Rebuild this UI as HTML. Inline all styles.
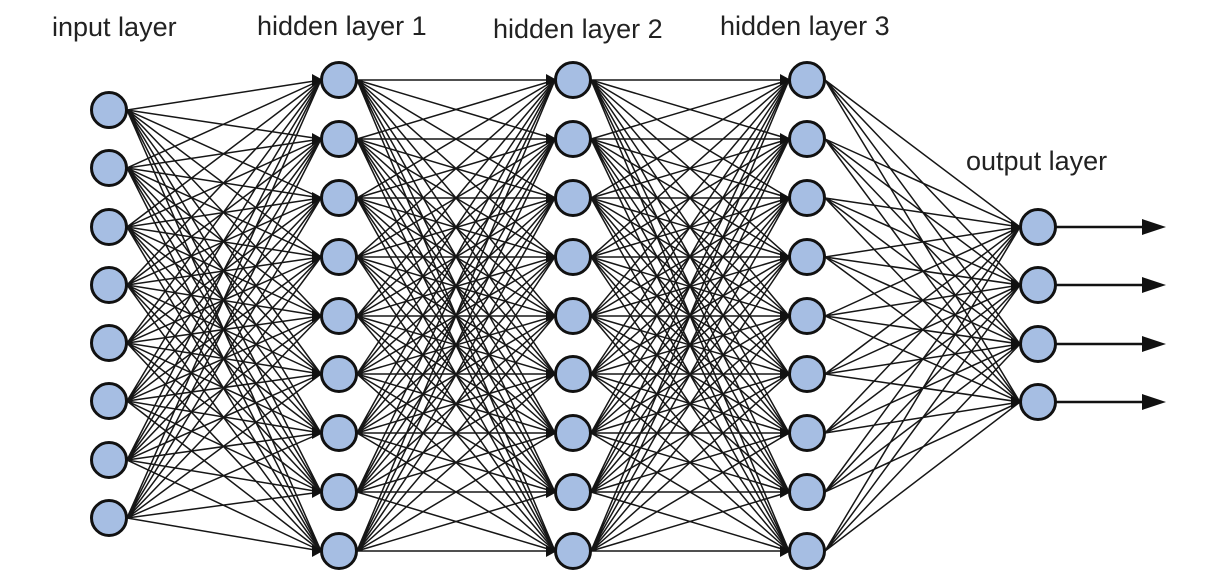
<!DOCTYPE html>
<html>
<head>
<meta charset="utf-8">
<style>
  html, body { margin:0; padding:0; background:#fff; width:1224px; height:581px; overflow:hidden; }
  svg { display:block; overflow:hidden; }
  .e { fill:none; stroke:#161616; stroke-width:1.5; }
  .n { fill:#a6bee3; stroke:#111; stroke-width:3; }
  .t { font-family:"Liberation Sans", Arial, sans-serif; font-size:27px; fill:#222; }
  .ah { fill:#111; }
  .oa { stroke:#111; stroke-width:2.6; }
</style>
</head>
<body>
<svg width="1224" height="581" viewBox="0 0 1224 581" xmlns="http://www.w3.org/2000/svg">
  <rect width="1224" height="581" fill="#fff"/>

  <!-- labels -->
  <text class="t" x="52" y="36">input layer</text>
  <text class="t" x="257" y="35">hidden layer 1</text>
  <text class="t" x="493" y="38">hidden layer 2</text>
  <text class="t" x="720" y="35">hidden layer 3</text>
  <text class="t" x="966" y="170">output layer</text>

  <!-- input -> hidden 1 -->
  <g class="e">
    <path d="M127 110L321 80M127 110L321 139M127 110L321 198M127 110L321 257M127 110L321 316M127 110L321 374M127 110L321 433M127 110L321 492M127 110L321 551"/>
    <path d="M127 168L321 80M127 168L321 139M127 168L321 198M127 168L321 257M127 168L321 316M127 168L321 374M127 168L321 433M127 168L321 492M127 168L321 551"/>
    <path d="M127 227L321 80M127 227L321 139M127 227L321 198M127 227L321 257M127 227L321 316M127 227L321 374M127 227L321 433M127 227L321 492M127 227L321 551"/>
    <path d="M127 285L321 80M127 285L321 139M127 285L321 198M127 285L321 257M127 285L321 316M127 285L321 374M127 285L321 433M127 285L321 492M127 285L321 551"/>
    <path d="M127 343L321 80M127 343L321 139M127 343L321 198M127 343L321 257M127 343L321 316M127 343L321 374M127 343L321 433M127 343L321 492M127 343L321 551"/>
    <path d="M127 401L321 80M127 401L321 139M127 401L321 198M127 401L321 257M127 401L321 316M127 401L321 374M127 401L321 433M127 401L321 492M127 401L321 551"/>
    <path d="M127 460L321 80M127 460L321 139M127 460L321 198M127 460L321 257M127 460L321 316M127 460L321 374M127 460L321 433M127 460L321 492M127 460L321 551"/>
    <path d="M127 518L321 80M127 518L321 139M127 518L321 198M127 518L321 257M127 518L321 316M127 518L321 374M127 518L321 433M127 518L321 492M127 518L321 551"/>
  </g>

  <!-- hidden 1 -> hidden 2 -->
  <g class="e">
    <path d="M357 80L555 80M357 80L555 139M357 80L555 198M357 80L555 257M357 80L555 316M357 80L555 374M357 80L555 433M357 80L555 492M357 80L555 551"/>
    <path d="M357 139L555 80M357 139L555 139M357 139L555 198M357 139L555 257M357 139L555 316M357 139L555 374M357 139L555 433M357 139L555 492M357 139L555 551"/>
    <path d="M357 198L555 80M357 198L555 139M357 198L555 198M357 198L555 257M357 198L555 316M357 198L555 374M357 198L555 433M357 198L555 492M357 198L555 551"/>
    <path d="M357 257L555 80M357 257L555 139M357 257L555 198M357 257L555 257M357 257L555 316M357 257L555 374M357 257L555 433M357 257L555 492M357 257L555 551"/>
    <path d="M357 316L555 80M357 316L555 139M357 316L555 198M357 316L555 257M357 316L555 316M357 316L555 374M357 316L555 433M357 316L555 492M357 316L555 551"/>
    <path d="M357 374L555 80M357 374L555 139M357 374L555 198M357 374L555 257M357 374L555 316M357 374L555 374M357 374L555 433M357 374L555 492M357 374L555 551"/>
    <path d="M357 433L555 80M357 433L555 139M357 433L555 198M357 433L555 257M357 433L555 316M357 433L555 374M357 433L555 433M357 433L555 492M357 433L555 551"/>
    <path d="M357 492L555 80M357 492L555 139M357 492L555 198M357 492L555 257M357 492L555 316M357 492L555 374M357 492L555 433M357 492L555 492M357 492L555 551"/>
    <path d="M357 551L555 80M357 551L555 139M357 551L555 198M357 551L555 257M357 551L555 316M357 551L555 374M357 551L555 433M357 551L555 492M357 551L555 551"/>
  </g>

  <!-- hidden 2 -> hidden 3 -->
  <g class="e">
    <path d="M591 80L789 80M591 80L789 139M591 80L789 198M591 80L789 257M591 80L789 316M591 80L789 374M591 80L789 433M591 80L789 492M591 80L789 551"/>
    <path d="M591 139L789 80M591 139L789 139M591 139L789 198M591 139L789 257M591 139L789 316M591 139L789 374M591 139L789 433M591 139L789 492M591 139L789 551"/>
    <path d="M591 198L789 80M591 198L789 139M591 198L789 198M591 198L789 257M591 198L789 316M591 198L789 374M591 198L789 433M591 198L789 492M591 198L789 551"/>
    <path d="M591 257L789 80M591 257L789 139M591 257L789 198M591 257L789 257M591 257L789 316M591 257L789 374M591 257L789 433M591 257L789 492M591 257L789 551"/>
    <path d="M591 316L789 80M591 316L789 139M591 316L789 198M591 316L789 257M591 316L789 316M591 316L789 374M591 316L789 433M591 316L789 492M591 316L789 551"/>
    <path d="M591 374L789 80M591 374L789 139M591 374L789 198M591 374L789 257M591 374L789 316M591 374L789 374M591 374L789 433M591 374L789 492M591 374L789 551"/>
    <path d="M591 433L789 80M591 433L789 139M591 433L789 198M591 433L789 257M591 433L789 316M591 433L789 374M591 433L789 433M591 433L789 492M591 433L789 551"/>
    <path d="M591 492L789 80M591 492L789 139M591 492L789 198M591 492L789 257M591 492L789 316M591 492L789 374M591 492L789 433M591 492L789 492M591 492L789 551"/>
    <path d="M591 551L789 80M591 551L789 139M591 551L789 198M591 551L789 257M591 551L789 316M591 551L789 374M591 551L789 433M591 551L789 492M591 551L789 551"/>
  </g>

  <!-- hidden 3 -> output -->
  <g class="e">
    <path d="M825 80L1020 227M825 80L1020 285M825 80L1020 344M825 80L1020 402"/>
    <path d="M825 139L1020 227M825 139L1020 285M825 139L1020 344M825 139L1020 402"/>
    <path d="M825 198L1020 227M825 198L1020 285M825 198L1020 344M825 198L1020 402"/>
    <path d="M825 257L1020 227M825 257L1020 285M825 257L1020 344M825 257L1020 402"/>
    <path d="M825 316L1020 227M825 316L1020 285M825 316L1020 344M825 316L1020 402"/>
    <path d="M825 374L1020 227M825 374L1020 285M825 374L1020 344M825 374L1020 402"/>
    <path d="M825 433L1020 227M825 433L1020 285M825 433L1020 344M825 433L1020 402"/>
    <path d="M825 492L1020 227M825 492L1020 285M825 492L1020 344M825 492L1020 402"/>
    <path d="M825 551L1020 227M825 551L1020 285M825 551L1020 344M825 551L1020 402"/>
  </g>

  <!-- incoming arrowhead clusters -->
  <g class="ah">
    <polygon points="312,74 323,80 312,86"/>
    <polygon points="312,133 323,139 312,145"/>
    <polygon points="312,192 323,198 312,204"/>
    <polygon points="312,251 323,257 312,263"/>
    <polygon points="312,310 323,316 312,322"/>
    <polygon points="312,368 323,374 312,380"/>
    <polygon points="312,427 323,433 312,439"/>
    <polygon points="312,486 323,492 312,498"/>
    <polygon points="312,545 323,551 312,557"/>

    <polygon points="546,74 557,80 546,86"/>
    <polygon points="546,133 557,139 546,145"/>
    <polygon points="546,192 557,198 546,204"/>
    <polygon points="546,251 557,257 546,263"/>
    <polygon points="546,310 557,316 546,322"/>
    <polygon points="546,368 557,374 546,380"/>
    <polygon points="546,427 557,433 546,439"/>
    <polygon points="546,486 557,492 546,498"/>
    <polygon points="546,545 557,551 546,557"/>

    <polygon points="780,74 791,80 780,86"/>
    <polygon points="780,133 791,139 780,145"/>
    <polygon points="780,192 791,198 780,204"/>
    <polygon points="780,251 791,257 780,263"/>
    <polygon points="780,310 791,316 780,322"/>
    <polygon points="780,368 791,374 780,380"/>
    <polygon points="780,427 791,433 780,439"/>
    <polygon points="780,486 791,492 780,498"/>
    <polygon points="780,545 791,551 780,557"/>

    <polygon points="1011,221 1022,227 1011,233"/>
    <polygon points="1011,279 1022,285 1011,291"/>
    <polygon points="1011,338 1022,344 1011,350"/>
    <polygon points="1011,396 1022,402 1011,408"/>
  </g>

  <!-- output arrows -->
  <g>
    <line class="oa" x1="1055" y1="227" x2="1146" y2="227"/>
    <polygon class="ah" points="1142,219 1166,227 1142,235"/>
    <line class="oa" x1="1055" y1="285" x2="1146" y2="285"/>
    <polygon class="ah" points="1142,277 1166,285 1142,293"/>
    <line class="oa" x1="1055" y1="344" x2="1146" y2="344"/>
    <polygon class="ah" points="1142,336 1166,344 1142,352"/>
    <line class="oa" x1="1055" y1="402" x2="1146" y2="402"/>
    <polygon class="ah" points="1142,394 1166,402 1142,410"/>
  </g>

  <!-- nodes: input -->
  <g class="n">
    <circle cx="109" cy="110" r="17.5"/>
    <circle cx="109" cy="168" r="17.5"/>
    <circle cx="109" cy="227" r="17.5"/>
    <circle cx="109" cy="285" r="17.5"/>
    <circle cx="109" cy="343" r="17.5"/>
    <circle cx="109" cy="401" r="17.5"/>
    <circle cx="109" cy="460" r="17.5"/>
    <circle cx="109" cy="518" r="17.5"/>
  </g>
  <!-- hidden 1 -->
  <g class="n">
    <circle cx="339" cy="80" r="17.5"/>
    <circle cx="339" cy="139" r="17.5"/>
    <circle cx="339" cy="198" r="17.5"/>
    <circle cx="339" cy="257" r="17.5"/>
    <circle cx="339" cy="316" r="17.5"/>
    <circle cx="339" cy="374" r="17.5"/>
    <circle cx="339" cy="433" r="17.5"/>
    <circle cx="339" cy="492" r="17.5"/>
    <circle cx="339" cy="551" r="17.5"/>
  </g>
  <!-- hidden 2 -->
  <g class="n">
    <circle cx="573" cy="80" r="17.5"/>
    <circle cx="573" cy="139" r="17.5"/>
    <circle cx="573" cy="198" r="17.5"/>
    <circle cx="573" cy="257" r="17.5"/>
    <circle cx="573" cy="316" r="17.5"/>
    <circle cx="573" cy="374" r="17.5"/>
    <circle cx="573" cy="433" r="17.5"/>
    <circle cx="573" cy="492" r="17.5"/>
    <circle cx="573" cy="551" r="17.5"/>
  </g>
  <!-- hidden 3 -->
  <g class="n">
    <circle cx="807" cy="80" r="17.5"/>
    <circle cx="807" cy="139" r="17.5"/>
    <circle cx="807" cy="198" r="17.5"/>
    <circle cx="807" cy="257" r="17.5"/>
    <circle cx="807" cy="316" r="17.5"/>
    <circle cx="807" cy="374" r="17.5"/>
    <circle cx="807" cy="433" r="17.5"/>
    <circle cx="807" cy="492" r="17.5"/>
    <circle cx="807" cy="551" r="17.5"/>
  </g>
  <!-- output -->
  <g class="n">
    <circle cx="1038" cy="227" r="17.5"/>
    <circle cx="1038" cy="285" r="17.5"/>
    <circle cx="1038" cy="344" r="17.5"/>
    <circle cx="1038" cy="402" r="17.5"/>
  </g>
</svg>
</body>
</html>
